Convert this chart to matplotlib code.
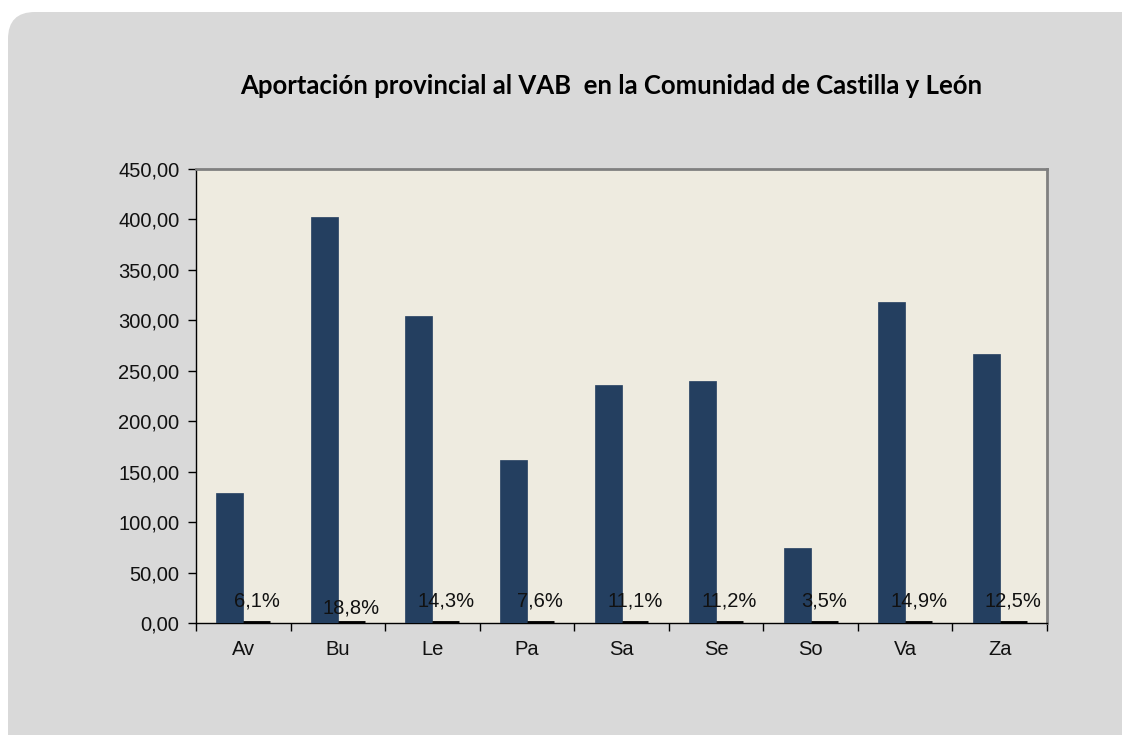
import matplotlib
matplotlib.use("Agg")
import matplotlib.pyplot as plt
from matplotlib.patches import FancyBboxPatch
from matplotlib.ticker import FuncFormatter
import numpy as np

categories = ["Av", "Bu", "Le", "Pa", "Sa", "Se", "So", "Va", "Za"]
vab = [129.0, 402.0, 304.5, 161.5, 235.5, 239.5, 74.5, 318.0, 266.5]
share = [0.061, 0.188, 0.143, 0.076, 0.111, 0.112, 0.035, 0.149, 0.125]
share_labels = ["6,1%", "18,8%", "14,3%", "7,6%", "11,1%", "11,2%", "3,5%", "14,9%", "12,5%"]
title = "Aportación provincial al VAB  en la Comunidad de Castilla y León"

plt.rcParams['font.family'] = ['Liberation Sans', 'DejaVu Sans']

fig = plt.figure(figsize=(11.22, 7.35), dpi=100)
fig.patch.set_facecolor("white")
bg = FancyBboxPatch((8/1122, -0.1), 1.2, (735-12)/735 + 0.1,
                    boxstyle="round,pad=0,rounding_size=0.024",
                    transform=fig.transFigure, facecolor="#d9d9d9",
                    edgecolor="none", zorder=-10, mutation_aspect=1122/735)
fig.patches.append(bg)

ax = fig.add_axes([196/1122, 1 - 623/735, (1047-196)/1122, (623-169)/735])
ax.set_facecolor("#eeebe0")

x = np.arange(len(categories))
w = 0.285
ax.bar(x - w/2, vab, width=w, color="#243f60", edgecolor="#243f60", linewidth=0.5, zorder=3)
ax.bar(x + w/2, share, width=w, color="black", edgecolor="black", linewidth=3.5, zorder=3)

for i, (xi, lab) in enumerate(zip(x, share_labels)):
    off = 11 if i == 1 else 16
    ax.annotate(lab, (xi + w/2, 0), xytext=(0, off), textcoords="offset points",
                ha="center", va="center", fontsize=14.5, color="#111111", zorder=4)

ax.set_xlim(-0.5, len(categories) - 0.5)
ax.set_ylim(0, 450)
ax.set_yticks(np.arange(0, 451, 50))
ax.yaxis.set_major_formatter(FuncFormatter(lambda v, p: f"{v:.2f}".replace(".", ",")))
ax.set_xticks(x)
ax.set_xticklabels(categories)
ax.set_xticks(np.arange(-0.5, len(categories), 1), minor=True)
ax.tick_params(axis="x", which="major", length=0, pad=12, labelsize=14.5, labelcolor="#111111")
ax.tick_params(axis="x", which="minor", length=6, width=1, direction="out")
ax.tick_params(axis="y", length=6, width=1, direction="out", pad=6, labelsize=14.5, labelcolor="#111111")

for s in ["top", "right"]:
    ax.spines[s].set_color("#808080")
    ax.spines[s].set_linewidth(2)
for s in ["left", "bottom"]:
    ax.spines[s].set_color("black")
    ax.spines[s].set_linewidth(1)

fig.text(611/1122, 1 - 86/735, title, ha="center", va="center",
         fontsize=18.5, fontweight="bold", family=["Lato", "DejaVu Sans"])

fig.savefig("out.png", dpi=100, facecolor="white")
